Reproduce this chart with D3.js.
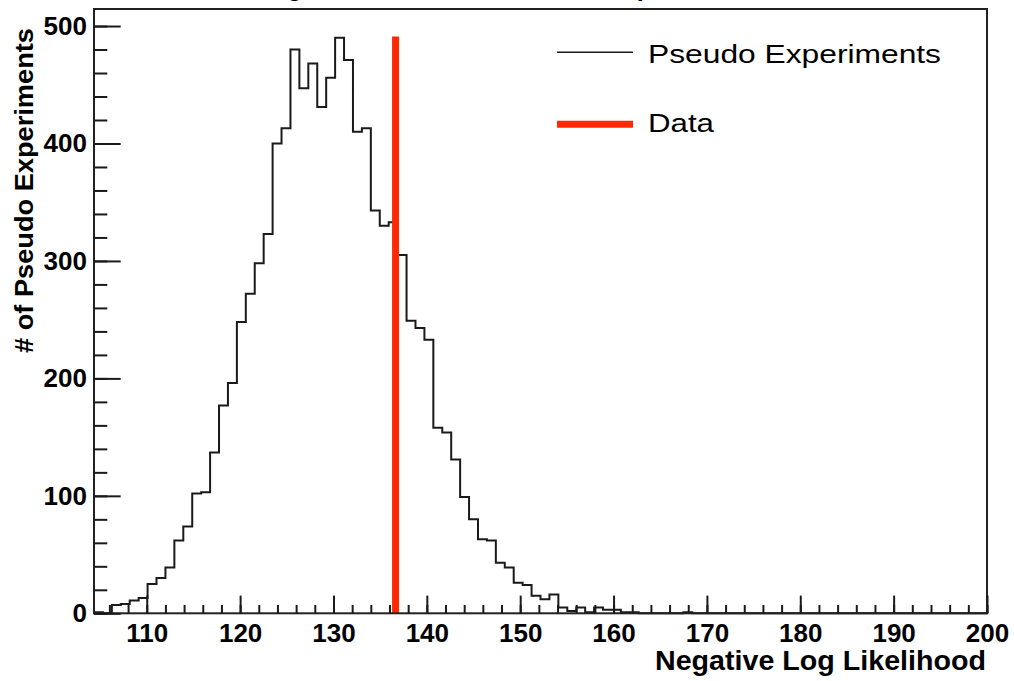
<!DOCTYPE html>
<html>
<head>
<meta charset="utf-8">
<script src="https://cdn.jsdelivr.net/npm/d3@7/dist/d3.min.js"></script>
<style>
  html, body { margin: 0; padding: 0; background: #fff; }
  svg { display: block; }
  text { font-family: "Liberation Sans", Arial, Helvetica, sans-serif; }
</style>
</head>
<body>
<svg id="chart" width="1014" height="681"></svg>
<script>
// ---- data ----
const xRange = [104.35, 200];           // histogram range (100 bins)
const binCounts = [
  1, 0, 7, 8, 11, 13, 25, 30, 39, 62,
  74, 102, 103, 137, 177, 196, 248, 272, 298, 323,
  400, 413, 480, 447, 468, 431, 456, 490, 471, 410,
  413, 343, 330, 333, 305, 249, 243, 233, 158, 154,
  131, 99, 80, 63, 62, 43, 39, 26, 24, 15,
  12, 16, 5, 2, 5, 1, 5, 3, 3, 1,
  1, 0, 0, 0, 0, 0, 1, 0, 0, 0,
  0, 0, 0, 0, 0, 0, 0, 0, 0, 0,
  0, 0, 0, 0, 0, 0, 0, 0, 0, 0,
  0, 0, 0, 0, 0, 0, 0, 0, 0, 0
];
const dataValue = 136.65;               // observed negative log likelihood
const dataHeight = 491;
const xMajorTicks = [110, 120, 130, 140, 150, 160, 170, 180, 190, 200];
const xMinorTicks = d3.range(106, 200.1, 2);
const yMajorTicks = [0, 100, 200, 300, 400, 500];
const yMinorTicks = d3.range(0, 514, 20);
const yMax = 514.5;
const xTitle = "Negative Log Likelihood";
const yTitle = "# of Pseudo Experiments";
const chartTitle = "Log Likelihood from Pseudo Experiments";
const legendLabels = ["Pseudo Experiments", "Data"];

// ---- layout ----
const L = 94, R = 987, T = 9, B = 613.3;
const svg = d3.select("#chart");
const x = d3.scaleLinear().domain(xRange).range([L, R]);
const y = d3.scaleLinear().domain([0, yMax]).range([B, T]);

const nb = binCounts.length;
const bw = (xRange[1] - xRange[0]) / nb;
const edges = d3.range(nb + 1).map(i => xRange[0] + i * bw);

// title (mostly above the canvas, as in the reference)
svg.append("text")
  .attr("x", 507).attr("y", -4)
  .attr("text-anchor", "middle")
  .attr("font-size", 25.4).attr("font-weight", "bold")
  .text(chartTitle);

// histogram step outline
const pts = [[x(edges[0]), y(0)]];
binCounts.forEach((c, i) => {
  pts.push([x(edges[i]), y(c)]);
  pts.push([x(edges[i + 1]), y(c)]);
});
pts.push([x(edges[nb]), y(0)]);
svg.append("path")
  .attr("d", d3.line()(pts))
  .attr("fill", "none")
  .attr("stroke", "#1a1a1a")
  .attr("stroke-width", 2);

// data line
svg.append("line")
  .attr("x1", x(dataValue)).attr("x2", x(dataValue))
  .attr("y1", y(0)).attr("y2", y(dataHeight))
  .attr("stroke", "#ff2a00")
  .attr("stroke-width", 7);

// frame
svg.append("rect")
  .attr("x", L).attr("y", T)
  .attr("width", R - L).attr("height", B - T)
  .attr("fill", "none")
  .attr("stroke", "#222")
  .attr("stroke-width", 2);

// x ticks (inward) and labels
const gxMinor = svg.append("g").attr("transform", `translate(0,${B})`)
  .call(d3.axisTop(x).tickValues(xMinorTicks).tickSize(8.3).tickFormat(""));
const gxMajor = svg.append("g").attr("transform", `translate(0,${B})`)
  .call(d3.axisTop(x).tickValues(xMajorTicks).tickSize(17.7).tickFormat(""));
const gxLab = svg.append("g").attr("transform", `translate(0,${B})`)
  .call(d3.axisBottom(x).tickValues(xMajorTicks).tickSize(0).tickPadding(10.5).tickFormat(d3.format("d")));

// y ticks (inward) and labels
const gyMinor = svg.append("g").attr("transform", `translate(${L},0)`)
  .call(d3.axisRight(y).tickValues(yMinorTicks).tickSize(13.3).tickFormat(""));
const gyMajor = svg.append("g").attr("transform", `translate(${L},0)`)
  .call(d3.axisRight(y).tickValues(yMajorTicks).tickSize(26.7).tickFormat(""));
const gyLab = svg.append("g").attr("transform", `translate(${L},0)`)
  .call(d3.axisLeft(y).tickValues(yMajorTicks).tickSize(0).tickPadding(7).tickFormat(d3.format("d")));

[gxMinor, gxMajor, gxLab, gyMinor, gyMajor, gyLab].forEach(g => {
  g.select(".domain").remove();
  g.selectAll("line").attr("stroke", "#1a1a1a").attr("stroke-width", 2);
  g.selectAll("text")
    .attr("font-family", "'Liberation Sans', Arial, Helvetica, sans-serif")
    .attr("font-size", 26).attr("font-weight", "bold").attr("fill", "#000");
});

// axis titles
svg.append("text")
  .attr("x", 986).attr("y", 670)
  .attr("text-anchor", "end")
  .attr("font-size", 27).attr("font-weight", "bold")
  .attr("textLength", 331).attr("lengthAdjust", "spacingAndGlyphs")
  .text(xTitle);

svg.append("text")
  .attr("transform", "translate(33,28) rotate(-90)")
  .attr("text-anchor", "end")
  .attr("font-size", 26).attr("font-weight", "bold")
  .attr("textLength", 325).attr("lengthAdjust", "spacingAndGlyphs")
  .text(yTitle);

// legend
const legend = svg.append("g");
legend.append("line")
  .attr("x1", 557).attr("x2", 633).attr("y1", 52.3).attr("y2", 52.3)
  .attr("stroke", "#1a1a1a").attr("stroke-width", 1.5);
legend.append("text")
  .attr("x", 648).attr("y", 63.3)
  .attr("font-size", 26)
  .attr("textLength", 293).attr("lengthAdjust", "spacingAndGlyphs")
  .text(legendLabels[0]);
legend.append("line")
  .attr("x1", 557).attr("x2", 633).attr("y1", 124.3).attr("y2", 124.3)
  .attr("stroke", "#ff2a00").attr("stroke-width", 7);
legend.append("text")
  .attr("x", 648).attr("y", 132)
  .attr("font-size", 26)
  .attr("textLength", 66).attr("lengthAdjust", "spacingAndGlyphs")
  .text(legendLabels[1]);
</script>
</body>
</html>
